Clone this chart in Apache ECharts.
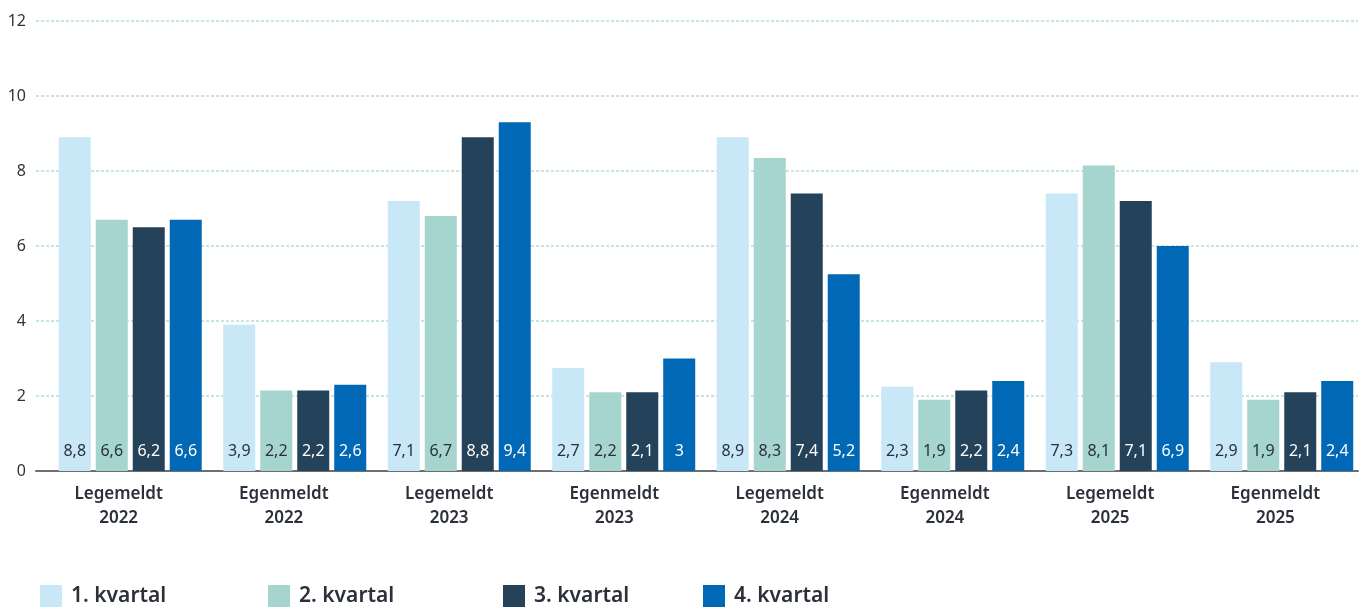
<!DOCTYPE html>
<html>
<head>
<meta charset="utf-8">
<script src="https://cdn.jsdelivr.net/npm/echarts@6/dist/echarts.min.js"></script>
<style>
    html, body { margin: 0; padding: 0; background: #fff; }
    #sykefravaer { width: 1368px; height: 610px; }
</style>
</head>
<body>
<div id="sykefravaer"></div>
<script>
    const categories = ['Legemeldt\n2022', 'Egenmeldt\n2022', 'Legemeldt\n2023', 'Egenmeldt\n2023',
        'Legemeldt\n2024', 'Egenmeldt\n2024', 'Legemeldt\n2025', 'Egenmeldt\n2025']
    const seriesNames = ['1. kvartal', '2. kvartal', '3. kvartal', '4. kvartal']
    const yTicks = [0, 2, 4, 6, 8, 10, 12]

    // bar heights
    const q1 = [8.9, 3.9, 7.2, 2.75, 8.9, 2.25, 7.4, 2.9]
    const q2 = [6.7, 2.15, 6.8, 2.1, 8.35, 1.9, 8.15, 1.9]
    const q3 = [6.5, 2.15, 8.9, 2.1, 7.4, 2.15, 7.2, 2.1]
    const q4 = [6.7, 2.3, 9.3, 3.0, 5.25, 2.4, 6.0, 2.4]

    // printed values inside the bars
    const q1Labels = ['8,8', '3,9', '7,1', '2,7', '8,9', '2,3', '7,3', '2,9']
    const q2Labels = ['6,6', '2,2', '6,7', '2,2', '8,3', '1,9', '8,1', '1,9']
    const q3Labels = ['6,2', '2,2', '8,8', '2,1', '7,4', '2,2', '7,1', '2,1']
    const q4Labels = ['6,6', '2,6', '9,4', '3', '5,2', '2,4', '6,9', '2,4']

    const colors = ['#c8e7f7', '#a6d4cf', '#244259', '#0068b4']
    const labelColors = ['#2b303b', '#2b303b', '#ffffff', '#ffffff']
    const FONT = 'Noto Sans'
    const TEXT = '#2b303b'

    const values = [q1, q2, q3, q4]
    const labels = [q1Labels, q2Labels, q3Labels, q4Labels]

    const series = seriesNames.map((name, i) => ({
        name,
        type: 'bar',
        xAxisIndex: 1,
        yAxisIndex: 1,
        data: values[i],
        barWidth: 32,
        barGap: '15.6%',
        itemStyle: { color: colors[i] },
        label: {
            show: true,
            position: 'insideBottom',
            distance: 12,
            fontFamily: FONT,
            fontSize: 16,
            color: labelColors[i],
            formatter: p => labels[i][p.dataIndex]
        }
    }))

    const legendLeft = [40, 268, 503, 703]
    const legend = seriesNames.map((name, i) => ({
        data: [name],
        left: legendLeft[i],
        top: 585,
        padding: 0,
        icon: 'rect',
        itemWidth: 22,
        itemHeight: 22,
        selectedMode: false,
        textStyle: {
            fontFamily: FONT,
            fontSize: 21,
            fontWeight: 600,
            color: TEXT,
            padding: [0, 0, 0, 4]
        }
    }))

    let myChart = echarts.init(document.getElementById('sykefravaer'))
    myChart.setOption({
        animation: false,
        backgroundColor: '#fff',
        legend,
        grid: [
            { left: 36, right: 10, top: 21, bottom: 139 },
            { left: 48, right: 4, top: 21, bottom: 139 }
        ],
        xAxis: [
            {
                gridIndex: 0,
                type: 'category',
                data: categories,
                axisTick: { show: false },
                axisLine: { lineStyle: { color: '#6e6e6e', width: 2 } },
                axisLabel: {
                    margin: 11,
                    fontFamily: FONT,
                    fontSize: 17,
                    fontWeight: 600,
                    lineHeight: 24,
                    color: TEXT
                }
            },
            {
                gridIndex: 1,
                type: 'category',
                data: categories,
                show: false
            }
        ],
        yAxis: [
            {
                gridIndex: 0,
                type: 'value',
                min: yTicks[0],
                max: yTicks[yTicks.length - 1],
                interval: 2,
                axisLine: { show: false },
                axisTick: { show: false },
                axisLabel: {
                    margin: 10,
                    fontFamily: FONT,
                    fontSize: 16,
                    color: '#333'
                },
                splitLine: {
                    lineStyle: { color: '#b3ddd6', type: [3, 2], width: 1.5 }
                }
            },
            {
                gridIndex: 1,
                type: 'value',
                min: yTicks[0],
                max: yTicks[yTicks.length - 1],
                interval: 2,
                show: false,
                splitLine: { show: false }
            }
        ],
        series
    })
</script>
</body>
</html>
